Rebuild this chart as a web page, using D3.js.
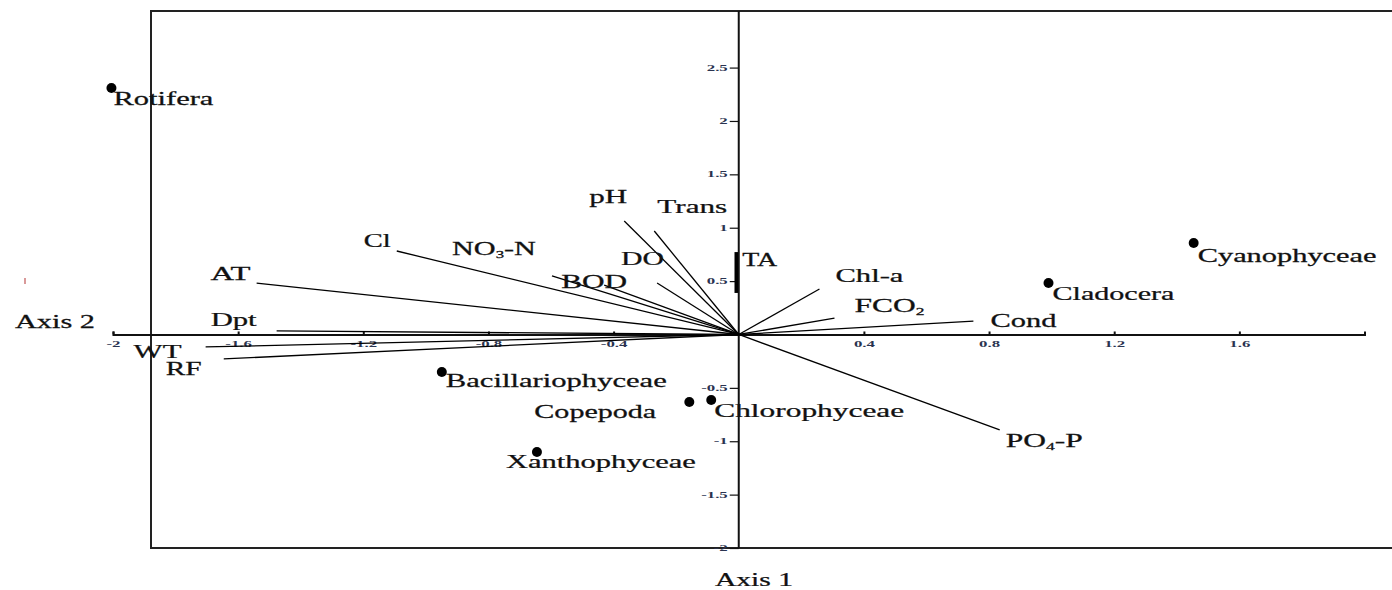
<!DOCTYPE html>
<html><head><meta charset="utf-8">
<script src="https://cdn.jsdelivr.net/npm/d3@7"></script>
<style>body{margin:0;background:#fff;} svg{display:block;}</style>
</head><body><svg id="c" width="1392" height="590"></svg>
<script>
// ---- data ----
const speciesNames = ["Rotifera","Cyanophyceae","Cladocera","Bacillariophyceae","Copepoda","Chlorophyceae","Xanthophyceae"];
const speciesAxis1 = [-2.005, 1.454, 0.990, -0.949, -0.158, -0.088, -0.645];
const speciesAxis2 = [2.308, 0.857, 0.482, -0.351, -0.632, -0.613, -1.100];

const envNames  = ["AT","Cl","NO3-N","BOD","DO","pH","Trans","TA","Chl-a","FCO2","Cond","PO4-P","Dpt","WT","RF"];
const envAxis1  = [-1.541,-1.093,-0.597,-0.430,-0.261,-0.366,-0.270,-0.008, 0.258, 0.306, 0.750, 0.834,-1.477,-1.704,-1.646];
const envAxis2  = [ 0.482, 0.782, 0.548, 0.463, 0.482, 1.063, 0.969, 0.772, 0.426, 0.154, 0.126,-0.894, 0.033,-0.117,-0.229];
const envStart1 = [0,0,0,0,0,0,0,-0.008,0,0,0,0,0,0,0];
const envStart2 = [0,0,0,0,0,0,0, 0.389,0,0,0,0,0,0,0];

const xTicks = [-2,-1.6,-1.2,-0.8,-0.4,0.4,0.8,1.2,1.6];
const yTicks = [2.5,2,1.5,1,0.5,-0.5,-1,-1.5,-2];

// ---- layout / style (not data) ----
const labelOffset = {
  "Rotifera":[2,17,100], "Cyanophyceae":[4,19,179], "Cladocera":[4,17,122],
  "Bacillariophyceae":[4,15,221], "Copepoda":[-155,16,122], "Chlorophyceae":[3,17,190],
  "Xanthophyceae":[-31,16,190],
  "AT":[-46,-3,40], "Cl":[-33,-4,27], "NO3-N":[-100,-21,84], "BOD":[-43,3,66],
  "DO":[-36,-18,43], "pH":[-35,-18,38], "Trans":[3,-18,70], "TA":[6,14,35],
  "Chl-a":[16,-7,68], "FCO2":[20,-6,70], "Cond":[17,6,66], "PO4-P":[6,17,77],
  "Dpt":[-66,-5,46], "WT":[-72,11,48], "RF":[-58,16,36]
};
const subscripted = new Set(["NO3-N","FCO2","PO4-P"]);
const FONT = "'Liberation Serif', 'Times New Roman', serif";
const TICKFONT = "'Liberation Serif', 'Times New Roman', serif";
const tickStretch = 2.1;

const svg = d3.select("#c");
const x = d3.scaleLinear().domain([-2, 2]).range([113, 1364.5]);
const y = d3.scaleLinear().domain([-2, 3.03]).range([548, 11]);
const frameLeft = 151, frameRight = 1397;

// frame
svg.append("rect").attr("x", frameLeft).attr("y", y(3.03)).attr("width", frameRight - frameLeft)
  .attr("height", y(-2) - y(3.03)).attr("fill", "none").attr("stroke", "#222").attr("stroke-width", 2);

// horizontal axis (Axis 1)
const gx = svg.append("g").attr("transform", `translate(0,${y(0)})`)
  .call(d3.axisBottom(x).tickValues(xTicks).tickSize(-3).tickPadding(7).tickFormat(d => String(d)));
gx.select(".domain").attr("stroke", "#111").attr("stroke-width", 2);
gx.selectAll(".tick line").attr("stroke", "#111").attr("stroke-width", 2);
gx.selectAll(".tick text").attr("font-family", TICKFONT)
  .attr("font-size", 8).attr("font-weight", "bold").attr("fill", "#2a3350")
  .attr("transform", `scale(${tickStretch},1)`);

// vertical axis (Axis 2)
const gy = svg.append("g").attr("transform", `translate(${x(0)},0)`)
  .call(d3.axisLeft(y).tickValues(yTicks).tickSize(9).tickPadding(2).tickFormat(d => String(d)));
gy.select(".domain").remove();
gy.append("line").attr("x1", 0).attr("x2", 0).attr("y1", y(-2)).attr("y2", y(3.03))
  .attr("stroke", "#111").attr("stroke-width", 2);
gy.selectAll(".tick line").attr("stroke", "#111").attr("stroke-width", 1.2);
gy.selectAll(".tick text").attr("font-family", TICKFONT)
  .attr("font-size", 8).attr("font-weight", "bold").attr("fill", "#2a3350")
  .attr("x", -11 / tickStretch).attr("transform", `scale(${tickStretch},1)`);

// stretched text helper
function stretchText(g, name, px, py, w, useSub) {
  const t = g.append("text").attr("font-family", FONT).attr("font-size", 18).attr("fill", "#111")
    .attr("stroke", "#111").attr("stroke-width", 0.25);
  const m = useSub ? name.match(/^(\D+)(\d)(.*)$/) : null;
  if (m) {
    t.append("tspan").text(m[1]);
    t.append("tspan").attr("font-size", 10).attr("dy", 3).text(m[2]);
    t.append("tspan").attr("dy", -3).text(m[3]);
  } else t.text(name);
  const n = t.node().getBBox().width || 1;
  t.attr("transform", `translate(${px},${py}) scale(${w / n},1)`);
  return t;
}

// environmental vectors
const env = envNames.map((n, i) => ({name: n, x0: envStart1[i], y0: envStart2[i], x1: envAxis1[i], y1: envAxis2[i]}));
const gv = svg.append("g");
gv.selectAll("line").data(env).join("line")
  .attr("x1", d => x(d.x0)).attr("y1", d => y(d.y0))
  .attr("x2", d => x(d.x1)).attr("y2", d => y(d.y1))
  .attr("stroke", "#000").attr("stroke-width", d => d.name === "TA" ? 3.5 : 1.3);
env.forEach(d => {
  const o = labelOffset[d.name];
  stretchText(gv, d.name, x(d.x1) + o[0], y(d.y1) + o[1], o[2], subscripted.has(d.name));
});

// species points
const sp = speciesNames.map((n, i) => ({name: n, x: speciesAxis1[i], y: speciesAxis2[i]}));
const gs = svg.append("g");
gs.selectAll("path").data(sp).join("path")
  .attr("d", d3.symbol(d3.symbolCircle).size(78))
  .attr("transform", d => `translate(${x(d.x)},${y(d.y)})`)
  .attr("fill", "#000");
sp.forEach(d => {
  const o = labelOffset[d.name];
  stretchText(gs, d.name, x(d.x) + o[0], y(d.y) + o[1], o[2], false);
});

// axis titles
stretchText(svg, "Axis 2", 15, 328, 80, false);
stretchText(svg, "Axis 1", 715, 586, 78, false);
// small red mark at left
svg.append("line").attr("x1", 25).attr("x2", 25).attr("y1", 278).attr("y2", 284)
  .attr("stroke", "#c77").attr("stroke-width", 1.5);
</script></body></html>
